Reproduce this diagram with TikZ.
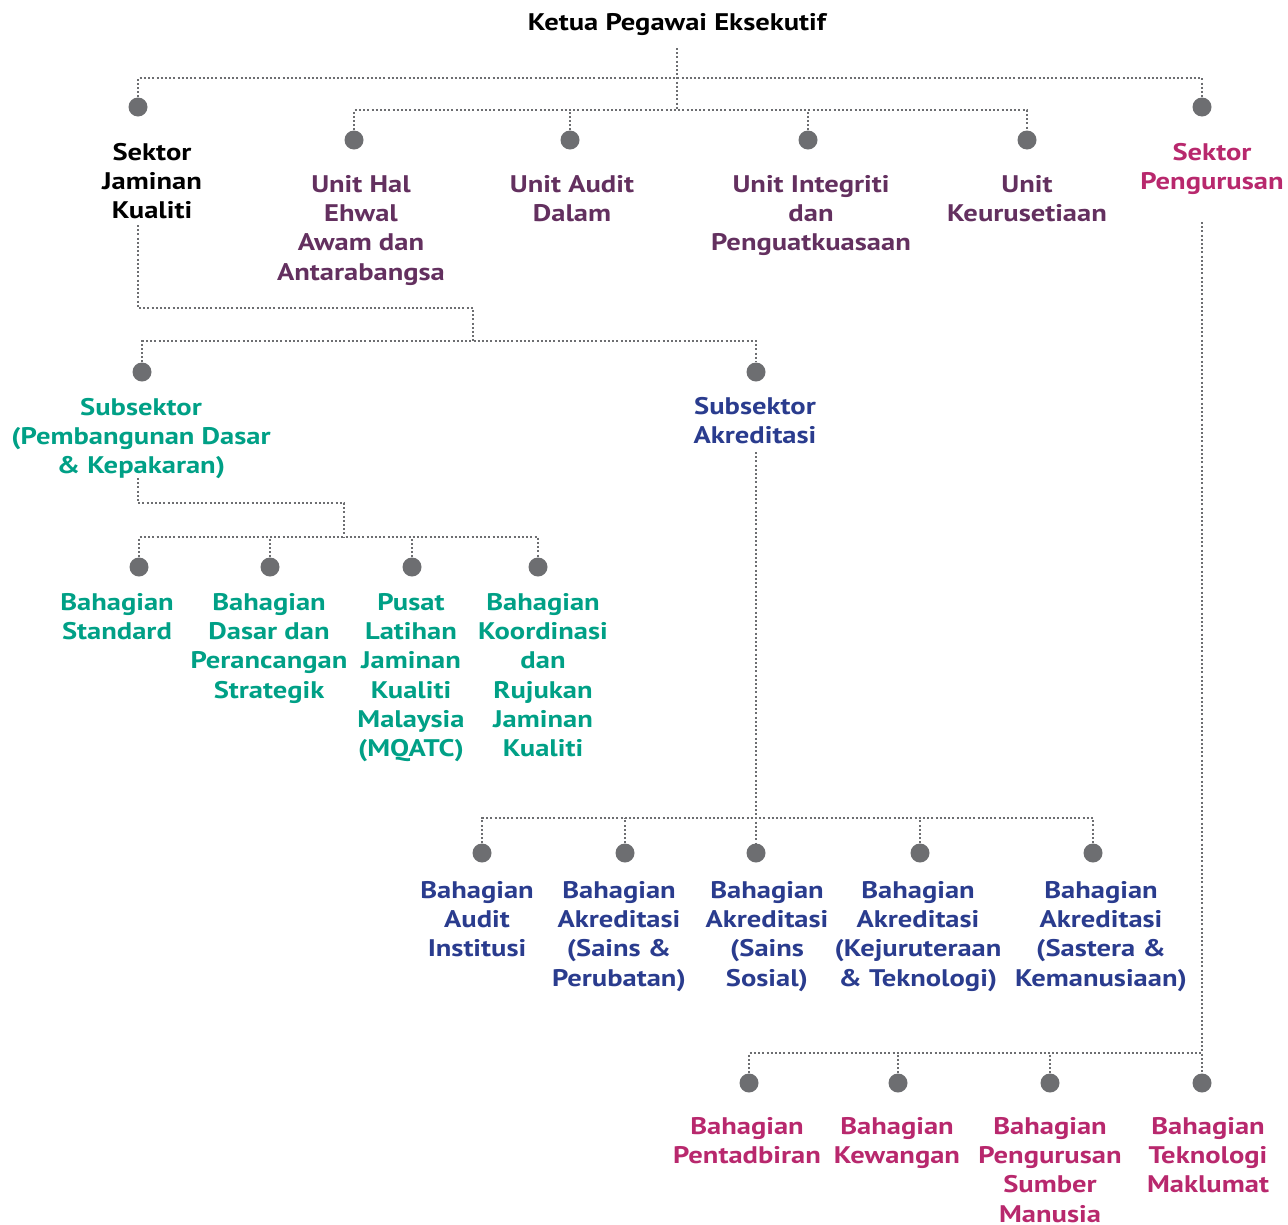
\documentclass[tikz,border=0pt]{standalone}
\usepackage{fontspec}
\setmainfont{PT Sans}[FakeStretch=1.19]
\definecolor{dotgray}{HTML}{6D6E71}
\definecolor{cpurple}{HTML}{63305F}
\definecolor{cteal}{HTML}{00A086}
\definecolor{cblue}{HTML}{2A3C8E}
\definecolor{cmag}{HTML}{B8286D}
\begin{document}
\begin{tikzpicture}[x=1pt,y=-1pt,
  conn/.style={draw=dotgray, line width=2pt, dash pattern=on 2pt off 2.2pt},
  dotn/.style={circle, fill=dotgray, minimum size=19pt, inner sep=0pt},
  lbl/.style={align=center, inner sep=0pt, anchor=north, execute at begin node=\strut,
    font=\fontsize{24}{29.3}\selectfont\bfseries}]
\useasboundingbox (0,0) rectangle (1288,1224);
% top
\node[lbl] (ceo) at (677,10) {Ketua Pegawai Eksekutif};
\coordinate (ceoT) at (677,48);
\coordinate (bar1) at (677,78);
\coordinate (bar2) at (677,110);
\node[dotn] (dJK) at (138,107) {};
\node[dotn] (dSP) at (1202,107) {};
\node[dotn] (dUH) at (354,140) {};
\node[dotn] (dUA) at (570,140) {};
\node[dotn] (dUI) at (808,140) {};
\node[dotn] (dUK) at (1027,140) {};
\node[lbl] (jk) at (152,143) {Sektor\\Jaminan\\Kualiti};
\node[lbl,text=cpurple] (uh) at (361,175) {Unit Hal\\Ehwal\\Awam dan\\Antarabangsa};
\node[lbl,text=cpurple] (ua) at (572,175) {Unit Audit\\Dalam};
\node[lbl,text=cpurple] (ui) at (811,175) {Unit Integriti\\dan\\Penguatkuasaan};
\node[lbl,text=cpurple] (uk) at (1027,175) {Unit\\Keurusetiaan};
\node[lbl,text=cmag] (sp) at (1212,143) {Sektor\\Pengurusan};
\draw[conn] (ceoT) -- (bar2);
\draw[conn] (dJK.north) |- (bar1) -| (dSP.north);
\draw[conn] (dUH.north) |- (bar2) -| (dUK.north);
\draw[conn] (dUA.north) -- (dUA.north |- bar2);
\draw[conn] (dUI.north) -- (dUI.north |- bar2);
% Jaminan Kualiti subtree
\coordinate (jkB) at (138,225);
\coordinate (k1) at (473,308);
\coordinate (k2) at (473,341);
\node[dotn] (dSPD) at (142,372) {};
\node[dotn] (dSA) at (756,372) {};
\node[lbl,text=cteal] (spd) at (141,398) {Subsektor\\(Pembangunan Dasar\\\& Kepakaran)};
\node[lbl,text=cblue] (sa) at (755,397) {Subsektor\\Akreditasi};
\draw[conn] (jkB) |- (k1) -- (k2);
\draw[conn] (dSPD.north) |- (k2) -| (dSA.north);
% green
\coordinate (gB) at (138,478);
\coordinate (g1) at (344,503);
\coordinate (g2) at (344,537);
\node[dotn] (dG1) at (139,567) {};
\node[dotn] (dG2) at (270,567) {};
\node[dotn] (dG3) at (412,567) {};
\node[dotn] (dG4) at (538,567) {};
\node[lbl,text=cteal] (g1t) at (117,593) {Bahagian\\Standard};
\node[lbl,text=cteal] (g2t) at (269,593) {Bahagian\\Dasar dan\\Perancangan\\Strategik};
\node[lbl,text=cteal] (g3t) at (411,593) {Pusat\\Latihan\\Jaminan\\Kualiti\\Malaysia\\(MQATC)};
\node[lbl,text=cteal] (g4t) at (543,593) {Bahagian\\Koordinasi\\dan\\Rujukan\\Jaminan\\Kualiti};
\draw[conn] (gB) |- (g1) -- (g2);
\draw[conn] (dG1.north) |- (g2) -| (dG4.north);
\draw[conn] (dG2.north) -- (dG2.north |- g2);
\draw[conn] (dG3.north) -- (dG3.north |- g2);
% blue
\coordinate (aB) at (756,452);
\coordinate (a1) at (756,818);
\node[dotn] (dB1) at (482,853) {};
\node[dotn] (dB2) at (625,853) {};
\node[dotn] (dB3) at (756,853) {};
\node[dotn] (dB4) at (920,853) {};
\node[dotn] (dB5) at (1093,853) {};
\node[lbl,text=cblue] (b1t) at (477,881) {Bahagian\\Audit\\Institusi};
\node[lbl,text=cblue] (b2t) at (619,881) {Bahagian\\Akreditasi\\(Sains \&\\Perubatan)};
\node[lbl,text=cblue] (b3t) at (767,881) {Bahagian\\Akreditasi\\(Sains\\Sosial)};
\node[lbl,text=cblue] (b4t) at (918,881) {Bahagian\\Akreditasi\\(Kejuruteraan\\\& Teknologi)};
\node[lbl,text=cblue] (b5t) at (1101,881) {Bahagian\\Akreditasi\\(Sastera \&\\Kemanusiaan)};
\draw[conn] (aB) -- (dB3.north);
\draw[conn] (dB1.north) |- (a1) -| (dB5.north);
\draw[conn] (dB2.north) -- (dB2.north |- a1);
\draw[conn] (dB4.north) -- (dB4.north |- a1);
% magenta
\coordinate (pB) at (1202,222);
\coordinate (p1) at (1202,1053);
\node[dotn] (dM1) at (749,1083) {};
\node[dotn] (dM2) at (898,1083) {};
\node[dotn] (dM3) at (1050,1083) {};
\node[dotn] (dM4) at (1202,1083) {};
\node[lbl,text=cmag] (m1t) at (747,1117) {Bahagian\\Pentadbiran};
\node[lbl,text=cmag] (m2t) at (897,1117) {Bahagian\\Kewangan};
\node[lbl,text=cmag] (m3t) at (1050,1117) {Bahagian\\Pengurusan\\Sumber\\Manusia};
\node[lbl,text=cmag] (m4t) at (1208,1117) {Bahagian\\Teknologi\\Maklumat};
\draw[conn] (pB) -- (dM4.north);
\draw[conn] (dM1.north) |- (p1);
\draw[conn] (dM2.north) -- (dM2.north |- p1);
\draw[conn] (dM3.north) -- (dM3.north |- p1);
\end{tikzpicture}
\end{document}
